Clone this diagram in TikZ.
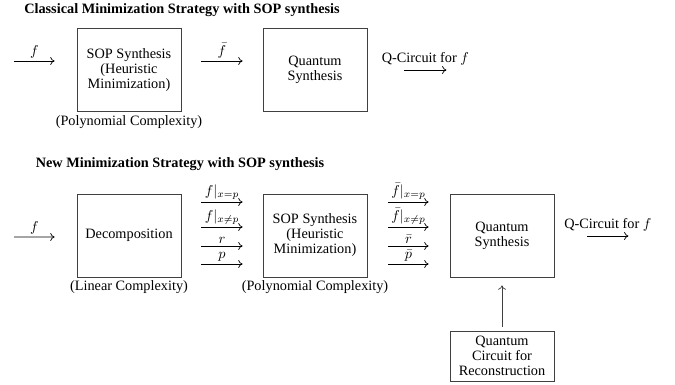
\documentclass[tikz,border=0pt]{standalone}
\usepackage{fontspec}
\setmainfont{Liberation Serif}
\usetikzlibrary{calc,arrows.meta}
\tikzset{
  blk/.style={draw=black!75, line width=0.6pt, minimum width=72.8pt, minimum height=58.1pt, align=center, inner sep=2pt, font=\fontsize{10}{10.5}\selectfont},
  recblk/.style={blk, minimum height=35pt},
  ttl/.style={font=\fontsize{10}{12}\selectfont\bfseries},
  cmt/.style={font=\fontsize{10}{12}\selectfont},
  arr/.style={-{To[length=3pt,width=5.5pt]}, line width=0.5pt},
  lbl/.style={above, inner sep=1.5pt, font=\fontsize{10}{12}\selectfont},
}
\begin{document}
\begin{tikzpicture}[x=0.7pt, y=-0.7pt]
\useasboundingbox (0,0) rectangle (675,385);
% ---------- top ----------
\node[ttl] (t1) at (182,10) {Classical Minimization Strategy with SOP synthesis};
\node[blk] (sop1) at (129,70) {SOP Synthesis\\(Heuristic\\Minimization)};
\node[blk] (qs1) at (315,70) {Quantum\\Synthesis};
\node[cmt] (poly1) at (129,122) {(Polynomial Complexity)};
\coordinate (in1) at (14,61);
\draw[arr] (in1) -- ($(sop1.west)+(-22,-9)$) node[lbl, midway] {$f$};
\draw[arr] ($(sop1.east)+(20,-9)$) -- ($(qs1.west)+(-20,-9)$) node[lbl, midway] {$\bar f$};
\coordinate (o1a) at ($(qs1.east)+(37,0)$);
\coordinate (o1b) at ($(qs1.east)+(79,0)$);
\draw[arr] (o1a) -- (o1b) node[lbl, midway, inner sep=3pt] {Q-Circuit for $f$};
% ---------- bottom ----------
\node[ttl] (t2) at (180,164) {New Minimization Strategy with SOP synthesis};
\node[blk] (dec) at (129,235.5) {Decomposition};
\node[blk] (sop2) at (315,235.5) {SOP Synthesis\\(Heuristic\\Minimization)};
\node[blk] (qs2) at (502,235.5) {Quantum\\Synthesis};
\node[recblk] (rec) at (502,356) {Quantum\\Circuit for\\Reconstruction};
\node[cmt] (lin) at (129,287) {(Linear Complexity)};
\node[cmt] (poly2) at (315,287) {(Polynomial Complexity)};
\coordinate (in2) at (14,237);
\draw[arr] (in2) -- ($(dec.west)+(-22,1.5)$) node[lbl, midway] {$f$};
% decomposition -> SOP
\draw[arr] ($(dec.east)+(20,-33.5)$) -- ($(sop2.west)+(-20,-33.5)$) node[lbl, midway] {$f|_{x=p}$};
\draw[arr] ($(dec.east)+(20,-8.5)$) -- ($(sop2.west)+(-20,-8.5)$) node[lbl, midway] {$f|_{x\neq p}$};
\draw[arr] ($(dec.east)+(20,10.5)$) -- ($(sop2.west)+(-20,10.5)$) node[lbl, midway] {$r$};
\draw[arr] ($(dec.east)+(20,28.5)$) -- ($(sop2.west)+(-20,28.5)$) node[lbl, midway] {$p$};
% SOP -> quantum
\draw[arr] ($(sop2.east)+(21,-33.5)$) -- ($(qs2.west)+(-21,-33.5)$) node[lbl, midway] {$\bar f|_{x=p}$};
\draw[arr] ($(sop2.east)+(21,-8.5)$) -- ($(qs2.west)+(-21,-8.5)$) node[lbl, midway] {$\bar f|_{x\neq p}$};
\draw[arr] ($(sop2.east)+(21,10.5)$) -- ($(qs2.west)+(-21,10.5)$) node[lbl, midway] {$\bar r$};
\draw[arr] ($(sop2.east)+(21,28.5)$) -- ($(qs2.west)+(-21,28.5)$) node[lbl, midway] {$\bar p$};
% output
\coordinate (o2a) at ($(qs2.east)+(33,0.5)$);
\coordinate (o2b) at ($(qs2.east)+(74,0.5)$);
\draw[arr] (o2a) -- (o2b) node[lbl, midway, inner sep=3pt] {Q-Circuit for $f$};
% reconstruction -> quantum
\draw[arr, draw=black!75] ($(rec.north)+(0,-4)$) -- ($(qs2.south)+(0,8)$);
\end{tikzpicture}
\end{document}
